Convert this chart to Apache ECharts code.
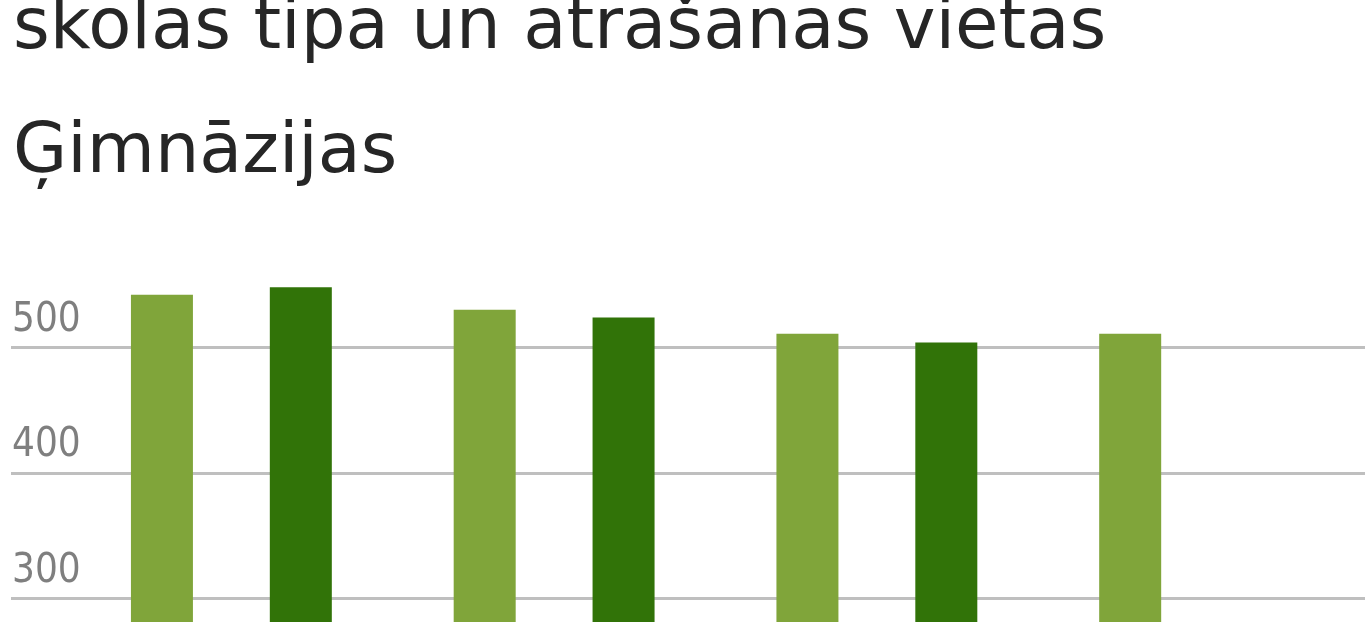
<html>

<head>
    <meta http-equiv="Content-Type" content="text/html; charset=utf-8" />
    <title>skolas tipa un atrašanās vietas</title>
    <script src="https://cdn.jsdelivr.net/npm/echarts@6/dist/echarts.min.js"></script>
    <style>
        html, body { margin: 0; padding: 0; background: #fff; }
    </style>
</head>

<body>
    <div id="main" style="width:1365px;height:622px"></div>

    <script type="text/javascript">
        var titleText = 'skolas tipa un atrašanās vietas';
        var subText = 'Ģimnāzijas';

        // grupas (x ass nosaukumi ir zem redzamās daļas)
        var categories = ['Rīga', 'Republikas pilsētas', 'Novadu pilsētas', 'Lauki'];
        var lightValues = [542, 530, 511, 511];
        var darkValues = [548, 524, 504, '-'];

        var yMin = 200;
        var yMax = 600;
        var yStep = 100;

        var gridTop = 222;
        var gridHeight = 502;

        var option = {
            animation: false,
            title: [{
                text: titleText,
                left: 8,
                top: -10,
                textStyle: {
                    fontFamily: 'DejaVu Sans',
                    fontSize: 70.6,
                    lineHeight: 70,
                    fontWeight: 'normal',
                    color: '#262626'
                }
            }, {
                text: subText,
                left: 8,
                top: 114,
                textStyle: {
                    fontFamily: 'DejaVu Sans',
                    fontSize: 70,
                    lineHeight: 70,
                    fontWeight: 'normal',
                    color: '#262626'
                }
            }],
            grid: [{
                left: 11,
                right: 0,
                top: gridTop,
                height: gridHeight,
                outerBoundsMode: 'none'
            }, {
                left: 70,
                right: 4,
                top: gridTop,
                height: gridHeight,
                outerBoundsMode: 'none'
            }],
            xAxis: [{
                gridIndex: 0,
                type: 'value',
                show: false
            }, {
                gridIndex: 1,
                type: 'category',
                data: categories,
                axisLine: { show: false },
                axisTick: { show: false },
                axisLabel: { show: false }
            }],
            yAxis: [{
                gridIndex: 0,
                type: 'value',
                min: yMin,
                max: yMax,
                interval: yStep,
                axisLine: { show: false },
                axisTick: { show: false },
                axisLabel: {
                    inside: true,
                    margin: 1,
                    showMaxLabel: false,
                    verticalAlign: 'bottom',
                    padding: [0, 0, 7, 0],
                    fontFamily: '"DejaVu Sans Condensed", Roboto',
                    fontSize: 40,
                    color: '#7f7f7f'
                },
                splitLine: {
                    show: true,
                    showMaxLine: false,
                    lineStyle: {
                        color: '#bfbfbf',
                        width: 3
                    }
                }
            }, {
                gridIndex: 1,
                type: 'value',
                min: yMin,
                max: yMax,
                interval: yStep,
                show: false,
                splitLine: { show: false }
            }],
            series: [{
                type: 'bar',
                xAxisIndex: 1,
                yAxisIndex: 1,
                barWidth: 62,
                barGap: '124%',
                itemStyle: { color: '#80a53a' },
                data: lightValues
            }, {
                type: 'bar',
                xAxisIndex: 1,
                yAxisIndex: 1,
                barWidth: 62,
                barGap: '124%',
                itemStyle: { color: '#317308' },
                data: darkValues
            }]
        };

        var myChart = echarts.init(document.getElementById('main'));
        myChart.setOption(option);
    </script>
</body>

</html>
